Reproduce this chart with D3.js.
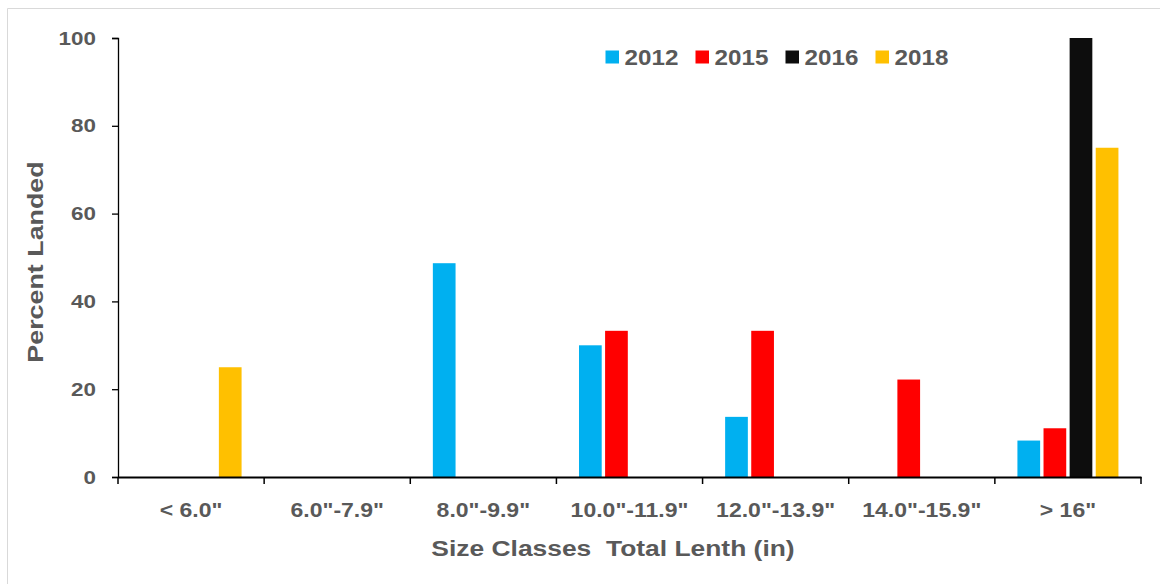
<!DOCTYPE html>
<html><head><meta charset="utf-8">
<script src="https://cdn.jsdelivr.net/npm/d3@7"></script>
<style>body{margin:0;background:#fff}svg{display:block}text{font-family:"Liberation Sans",Arial,sans-serif;font-weight:bold;fill:#595959}</style>
</head><body><svg id="c" width="1160" height="584"></svg>
<script>
const categories = ['< 6.0"', '6.0"-7.9"', '8.0"-9.9"', '10.0"-11.9"', '12.0"-13.9"', '14.0"-15.9"', '> 16"'];
const seriesNames = ["2012", "2015", "2016", "2018"];
const seriesColors = ["#00B0F0", "#FF0000", "#0D0D0D", "#FFC000"];
const values2012 = [0, 0, 48.7, 30.0, 13.7, 0, 8.3];
const values2015 = [0, 0, 0, 33.3, 33.3, 22.2, 11.1];
const values2016 = [0, 0, 0, 0, 0, 0, 100];
const values2018 = [25.0, 0, 0, 0, 0, 0, 75.0];
const yTicks = [0, 20, 40, 60, 80, 100];
const seriesValues = [values2012, values2015, values2016, values2018];

(function () {
const svg = d3.select("#c");
function stretch(sel, f) {
  sel.each(function () {
    const w = this.getComputedTextLength();
    d3.select(this).attr("textLength", w * f).attr("lengthAdjust", "spacingAndGlyphs");
  });
}
svg.append("path").attr("d", "M7.5,1200V8.5H1300").attr("fill", "none").attr("stroke", "#d9d9d9").attr("stroke-width", 1);

const mLeft = 118, mRight = 1141, mTop = 38, mBottom = 477;
const x = d3.scaleBand().domain(categories).range([mLeft, mRight]).paddingInner(0).paddingOuter(0);
const x1 = d3.scaleBand().domain(seriesNames).range([21, x.bandwidth() - 21]).paddingInner(0.13).paddingOuter(0.06);
const y = d3.scaleLinear().domain([0, 100]).range([mBottom, mTop]);

const g = svg.append("g");
categories.forEach((c, ci) => {
  seriesNames.forEach((s, si) => {
    const v = seriesValues[si][ci];
    if (v > 0) {
      g.append("rect")
        .attr("x", x(c) + x1(s))
        .attr("y", y(v))
        .attr("width", x1.bandwidth())
        .attr("height", y(0) - y(v))
        .attr("fill", seriesColors[si]);
    }
  });
});

const ya = svg.append("g").attr("transform", `translate(${mLeft},0)`)
  .call(d3.axisLeft(y).tickValues(yTicks).tickSize(6).tickPadding(16));
ya.select(".domain").attr("stroke", "#000").attr("stroke-width", 1.3);
ya.selectAll(".tick line").attr("stroke", "#000").attr("stroke-width", 1.3);
ya.selectAll(".tick text").attr("font-size", 19).attr("fill", "#595959");
stretch(ya.selectAll(".tick text"), 1.18);

const xa = svg.append("g").attr("transform", `translate(0,${mBottom})`)
  .call(d3.axisBottom(x).tickSize(0).tickPadding(0));
xa.select(".domain").attr("stroke", "#000").attr("stroke-width", 2.2);
xa.selectAll(".tick").remove();
const boundaries = categories.map(c => x(c)).concat([x.range()[1]]);
xa.selectAll("line.bt").data(boundaries).enter().append("line")
  .attr("x1", d => d).attr("x2", d => d).attr("y1", 0).attr("y2", 7)
  .attr("stroke", "#000").attr("stroke-width", 1.5);

const xl = svg.append("g").selectAll("text").data(categories).enter().append("text")
  .attr("x", d => x(d) + x.bandwidth() / 2)
  .attr("y", 517)
  .attr("text-anchor", "middle")
  .attr("font-size", 19.5)
  .text(d => d);
stretch(xl, 1.18);

const xt = svg.append("text").attr("x", 613).attr("y", 556).attr("text-anchor", "middle")
  .attr("font-size", 22).style("white-space", "pre")
  .text("Size Classes  Total Lenth (in)");
stretch(xt, 1.2);
const yt = svg.append("text").attr("transform", "translate(43,262) rotate(-90)").attr("text-anchor", "middle")
  .attr("font-size", 22).text("Percent Landed");
stretch(yt, 1.22);

const lg = svg.append("g");
seriesNames.forEach((s, i) => {
  const lx = 605.5 + i * 90;
  lg.append("rect").attr("x", lx).attr("y", 50.5).attr("width", 13.5).attr("height", 13).attr("fill", seriesColors[i]);
  const t = lg.append("text").attr("x", lx + 19).attr("y", 64.5).attr("font-size", 22).text(s);
  stretch(t, 1.1);
});
})();
</script></body></html>
